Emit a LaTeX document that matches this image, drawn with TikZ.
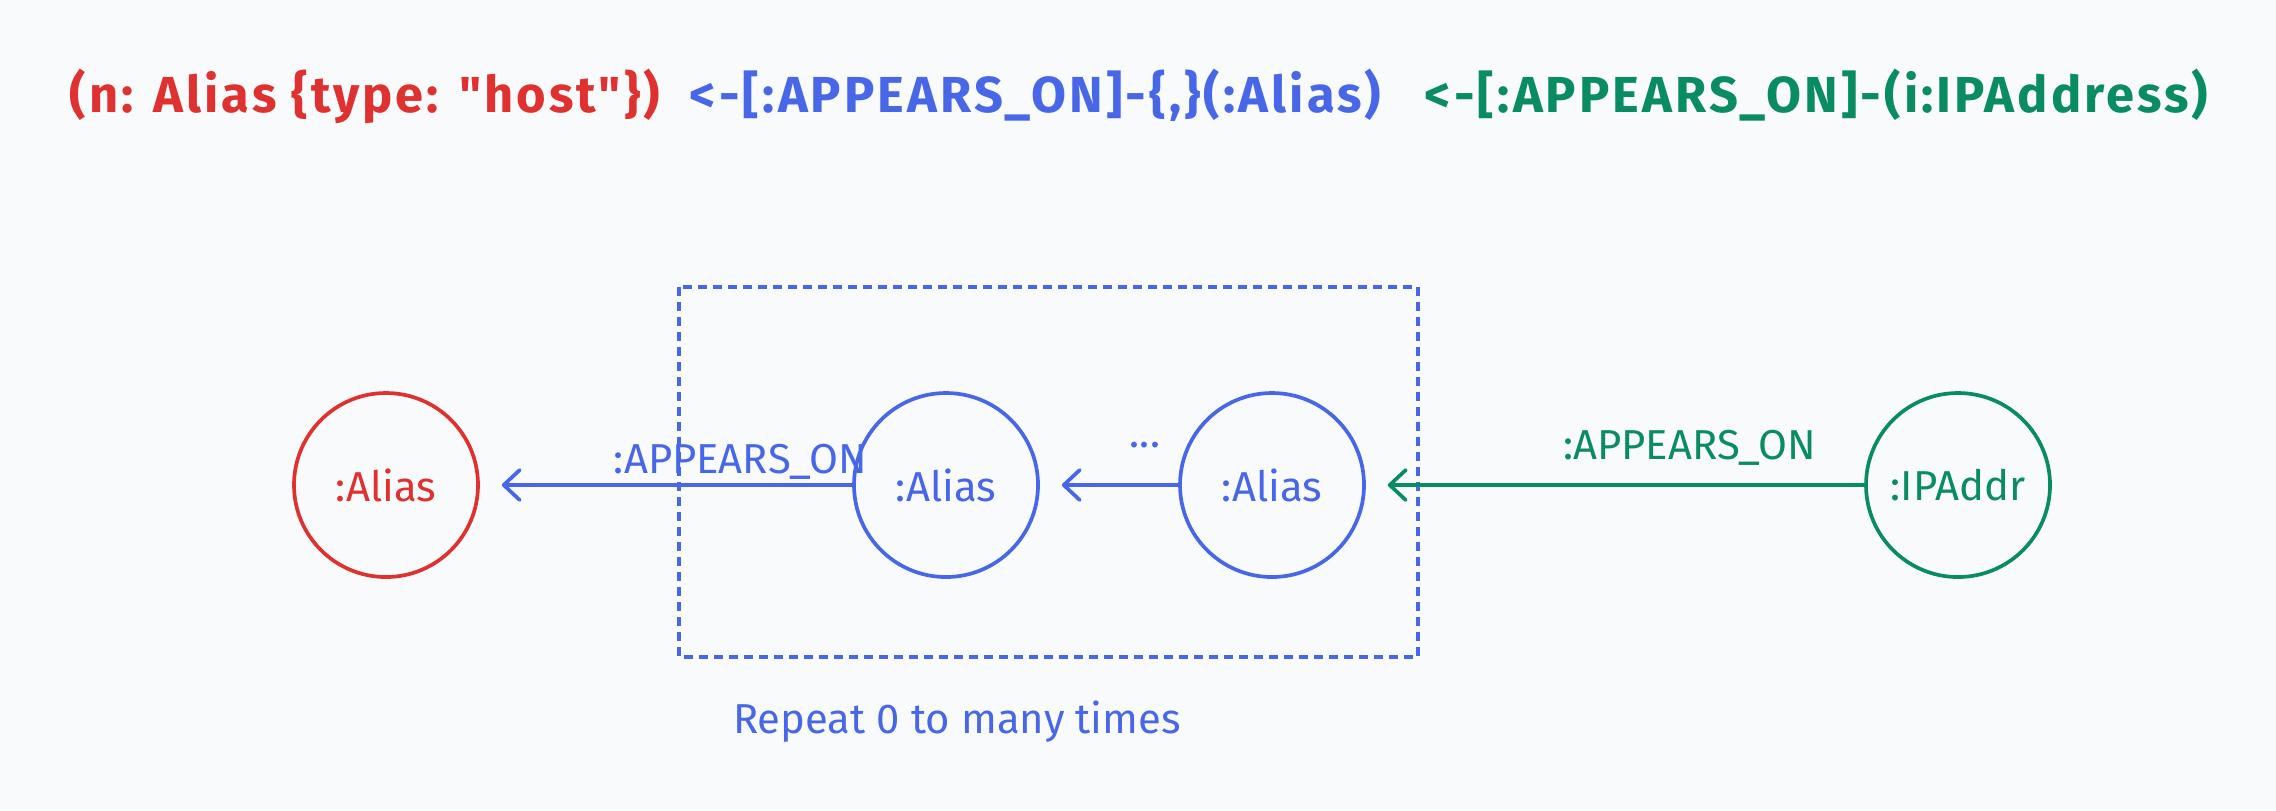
\documentclass[tikz,border=0pt]{standalone}
\usepackage{fontspec}
\setmainfont{Fira Sans}
\newfontfamily\titlefont[LetterSpace=6]{Fira Sans}
\usepackage{xcolor}
\definecolor{exred}{RGB}{224,49,49}
\definecolor{exblue}{RGB}{71,103,232}
\definecolor{exgreen}{RGB}{9,140,100}
\definecolor{exbg}{RGB}{249,250,251}
\usepackage{tikz}
\usetikzlibrary{arrows.meta, positioning}

\begin{document}
\begin{tikzpicture}[
  graphnode/.style={circle, draw, line width=1.05pt, minimum size=18.4mm, inner sep=0pt,
                    font=\fontsize{11.9}{14}\selectfont},
  relarrow/.style={line width=1.05pt, line cap=round, shorten >=2.2mm,
                   -{Straight Barb[length=1.6mm, width=3mm, round]}},
  rellabel/.style={font=\fontsize{11.9}{14}\selectfont, inner sep=1pt},
  titlepart/.style={font=\titlefont\fontsize{14.4}{17}\selectfont\bfseries, anchor=base west, inner sep=0pt}
]

% --- Background and margins ---
\fill[exbg] (0,0) rectangle (22.76,-8.10);
\useasboundingbox (0,0) rectangle (22.76,-8.10);

% --- Query text ---
\node[titlepart, exred]   (q-start) at (0.69,-1.12) {(n: Alias \{type: "host"\})};
\node[titlepart, exblue]  (q-path)  at (6.89,-1.12) {<-[:APPEARS\_ON]-\{,\}(:Alias)};
\node[titlepart, exgreen] (q-end)   at (14.24,-1.12) {<-[:APPEARS\_ON]-(i:IPAddress)};

% --- Repeat box ---
\draw[exblue, line width=0.9pt, dash pattern=on 0.9mm off 0.6mm] (6.79,-2.87) rectangle (14.18,-6.57);
\node[font=\fontsize{11.9}{14}\selectfont, exblue] (repeat-note) at (9.57,-7.22) {Repeat 0 to many times};

% --- Nodes ---
\node[graphnode, draw=exred, text=exred]     (alias-n) at (3.86,-4.85) {:Alias};
\node[graphnode, draw=exblue, text=exblue]   (alias-a) at (9.46,-4.85) {:Alias};
\node[graphnode, draw=exblue, text=exblue]   (alias-b) at (12.72,-4.85) {:Alias};
\node[graphnode, draw=exgreen, text=exgreen] (ip-node) at (19.58,-4.85) {:IPAddr};

% --- Relationships ---
\draw[relarrow, exblue] (alias-a.west) -- node[rellabel, pos=0.30, above=0pt] (rel-a) {:APPEARS\_ON} (alias-n.east);
\draw[relarrow, exblue] (alias-b.west) -- node[rellabel, pos=0.24, above=9pt] (rel-b) {...} (alias-a.east);
\draw[relarrow, exgreen] (ip-node.west) -- node[rellabel, pos=0.35, above=4pt] (rel-c) {:APPEARS\_ON} (alias-b.east);

\end{tikzpicture}
\end{document}
